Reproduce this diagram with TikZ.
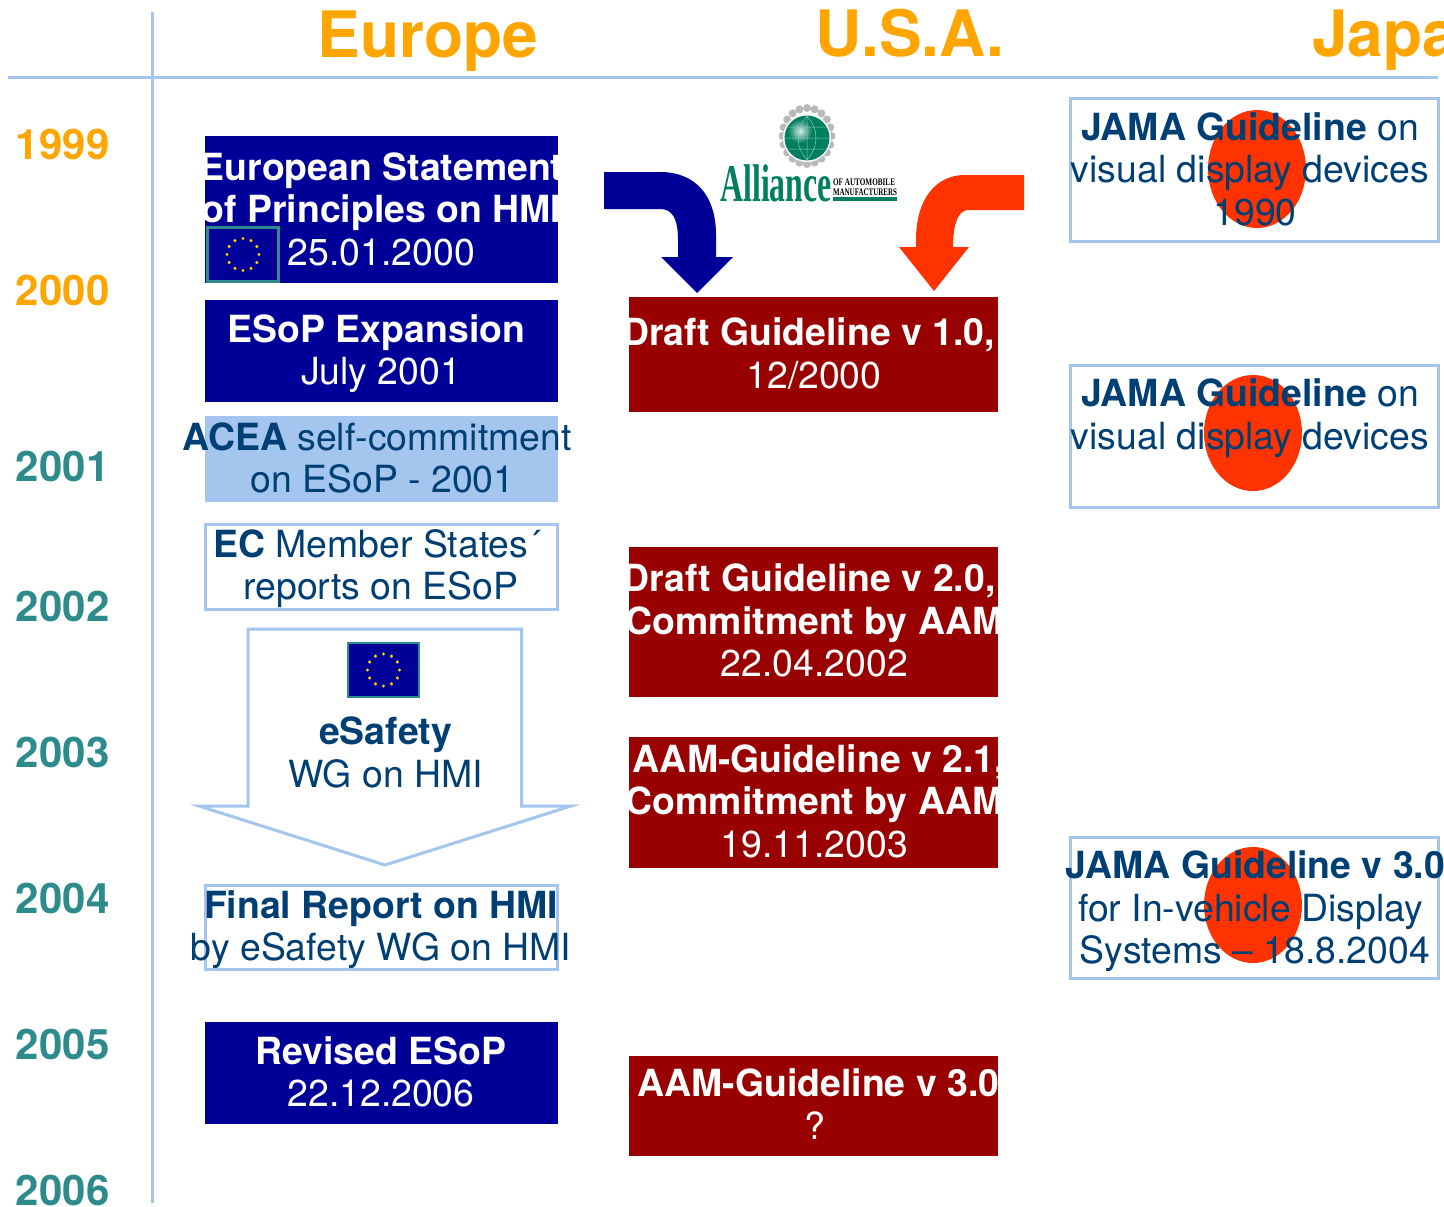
\documentclass[tikz,border=0pt]{standalone}
\usepackage{fontspec}
\setmainfont{TeX Gyre Heros}
\newfontfamily\logofont{Liberation Serif}
\definecolor{navy}{HTML}{000099}
\definecolor{maroon}{HTML}{990000}
\definecolor{pale}{HTML}{A3C5EE}
\definecolor{ink}{HTML}{003F73}
\definecolor{amber}{HTML}{FFA500}
\definecolor{teal2}{HTML}{2E8B8B}
\definecolor{hot}{HTML}{FF3300}
\definecolor{logogreen}{HTML}{007F5F}
\definecolor{star}{HTML}{FFCC00}
\newcommand{\flagat}[5]{%
  \node[flagbox,minimum width=#3,minimum height=#4] (#5) at (#1,#2) {};
  \foreach \a in {0,30,...,330} \fill[star] (#1,#2) ++(\a:16) circle (1.7);
}
\tikzset{
  x=1pt,y=-1pt,
  every node/.style={inner sep=0pt,outer sep=0pt},
  box/.style={anchor=north west,minimum width=353,rectangle},
  bluebox/.style={box,fill=navy},
  redbox/.style={box,fill=maroon,minimum width=369},
  paleb/.style={box,fill=pale},
  wbox/.style={box,draw=pale,line width=3,minimum width=352},
  jbox/.style={box,draw=pale,line width=3,minimum width=368},
  body/.style={align=center,font=\fontsize{37.4}{42.5}\selectfont},
  wtxt/.style={body,text=white},
  dtxt/.style={body,text=ink},
  year/.style={anchor=base west,font=\fontsize{42}{42}\selectfont\bfseries},
  head/.style={anchor=base,text=amber,font=\fontsize{64}{64}\selectfont\bfseries},
  flagbox/.style={rectangle,draw=teal2,fill=navy,line width=2.5},
  rule/.style={draw=pale,line width=3},
  blob/.style={fill=hot},
  tiny/.style={anchor=base west,text=black,font=\logofont\bfseries\fontsize{10}{10}\selectfont}
}
\begin{document}
\begin{tikzpicture}
\useasboundingbox (0,0) rectangle (1444,1207);
\clip (0,0) rectangle (1444,1207);
\fill[white] (0,0) rectangle (1444,1207);
% axes
\coordinate (vt) at (152.5,12); \coordinate (vb) at (152.5,1203);
\coordinate (hl) at (8,77.5); \coordinate (hr) at (1438,77.5);
\draw[rule] (vt) -- (vb);
\draw[rule] (hl) -- (hr);
% headers
\node[head] (hE) at (428,58) {Europe};
\node[head] (hU) at (910,57) {U.S.A.};
\node[head,anchor=base west] (hJ) at (1312,57) {Japan};
% years
\node[year,text=amber] (y99) at (16,159) {1999};
\node[year,text=amber] (y00) at (16,305) {2000};
\node[year,text=teal2] (y01) at (16,481) {2001};
\node[year,text=teal2] (y02) at (16,621) {2002};
\node[year,text=teal2] (y03) at (16,767) {2003};
\node[year,text=teal2] (y04) at (16,913) {2004};
\node[year,text=teal2] (y05) at (16,1059) {2005};
\node[year,text=teal2] (y06) at (16,1205) {2006};
% europe
\node[bluebox,minimum height=147] (b1) at (205,136) {};
\node[wtxt] (t1) at (381.5,214) {\strut\textbf{European Statement}\\\textbf{of Principles on HMI}\\25.01.2000\strut};
\flagat{243}{254.5}{71}{54}{f1}
\node[bluebox,minimum height=102] (b2) at (205,300) {};
\node[wtxt] (t2) at (381,355) {\strut\textbf{ESoP Expansion}\hspace*{9pt}\\July 2001\strut};
\node[paleb,minimum height=86] (b3) at (205,416) {};
\node[dtxt] (t3) at (377,463) {\strut\textbf{ACEA} self-commitment\\\hspace*{11pt}on ESoP - 2001\strut};
\node[wbox,minimum height=85] (b4) at (205,524) {};
\node[dtxt] (t4) at (377,570) {\strut\textbf{EC} Member States´\\\hspace*{8pt}reports on ESoP\strut};
% eSafety arrow
\coordinate (a1) at (248,629); \coordinate (a2) at (521.5,629); \coordinate (a3) at (521.5,806);
\coordinate (a4) at (571,806); \coordinate (a5) at (385,865); \coordinate (a6) at (199,806); \coordinate (a7) at (248,806);
\filldraw[rule,fill=white] (a1) -- (a2) -- (a3) -- (a4) -- (a5) -- (a6) -- (a7) -- cycle;
\flagat{383.5}{670}{71}{54}{f2}
\node[dtxt] (t5) at (385.5,757.5) {\strut\textbf{eSafety}\\WG on HMI\strut};
\node[wbox,minimum height=84] (b6) at (205,885) {};
\node[dtxt] (t6) at (381,931) {\strut\textbf{Final Report on HMI}\\by eSafety WG on HMI\strut};
\node[bluebox,minimum height=102] (b7) at (205,1022) {};
\node[wtxt] (t7) at (381,1077) {\strut\textbf{Revised ESoP}\\22.12.2006\strut};
% usa
\node[redbox,minimum height=115] (r1) at (629,297) {};
\node[wtxt] (u1) at (814,358.5) {\strut\textbf{Draft Guideline v 1.0,}\hspace*{11pt}\\12/2000\strut};
\node[redbox,minimum height=150] (r2) at (629,547) {};
\node[wtxt] (u2) at (814.5,625.5) {\strut\textbf{Draft Guideline v 2.0,}\hspace*{11pt}\\\textbf{Commitment by AAM}\\22.04.2002\strut};
\node[redbox,minimum height=131] (r3) at (629,737) {};
\node[wtxt] (u3) at (814.5,806) {\strut\hspace*{9pt}\textbf{AAM-Guideline v 2.1,}\\\textbf{Commitment by AAM}\\19.11.2003\strut};
\node[redbox,minimum height=100] (r4) at (629,1056) {};
\node[wtxt] (u4) at (818.5,1109.5) {\strut\textbf{AAM-Guideline v 3.0}\\\hspace*{-8pt}?\strut};
% arrows
\fill[navy] (604,172) -- (660,172) .. controls (695,172) and (716,195) .. (716,235) -- (716,257) -- (733,257) -- (697,293) -- (661,257) -- (678,257) -- (678,240) .. controls (678,218) and (672,209) .. (660,209) -- (604,209) -- cycle;
\fill[hot] (1024,175) -- (965,175) .. controls (935,175) and (916,200) .. (916,240) -- (916,247) -- (899,247) -- (934,291) -- (969,247) -- (953,247) .. controls (953,225) and (958,210) .. (968,210) -- (1024,210) -- cycle;
% logo
\foreach \a in {0,18,...,342} \fill[gray!55] (807,136) ++(\a:24.5 and 28) circle (4);
\fill[white] (807,138) circle (24);
\fill[logogreen] (807,138) circle (22.5);
\shade[inner color=white!85!logogreen,outer color=logogreen] (800,131) circle (12);
\draw[white!55!logogreen,line width=0.5] (785,138) -- (829,138) (788,127) -- (826,127) (788,149) -- (826,149) (807,116) .. controls (795,130) and (795,146) .. (807,160) (807,116) .. controls (819,130) and (819,146) .. (807,160) (807,116) -- (807,160);
\node[anchor=base,text=logogreen,font=\logofont\bfseries\fontsize{53}{53}\selectfont,xscale=0.6] (lg) at (776,201) {Alliance};
\node[tiny,xscale=0.72] (lg2) at (833,185) {OF AUTOMOBILE};
\node[tiny,xscale=0.7] (lg3) at (833,195) {MANUFACTURERS};
\fill[logogreen] (833,197) rectangle (897,201);
% japan
\node[jbox,minimum height=142] (j1) at (1070,99) {};
\node[jbox,minimum height=142] (j2) at (1070,365) {};
\node[jbox,minimum height=141] (j3) at (1070,837) {};
\fill[blob] (1257,169) ellipse (49 and 59);
\fill[blob] (1253,433) ellipse (49 and 58);
\fill[blob] (1253,905) ellipse (49 and 58);
\node[dtxt] (k1) at (1250,174) {\strut\textbf{JAMA Guideline} on\\visual display devices\\\hspace*{10pt}1990\strut};
\node[dtxt] (k2) at (1250,419.5) {\strut\textbf{JAMA Guideline} on\\visual display devices\strut};
\node[dtxt] (k3) at (1255,912.5) {\strut\hspace*{1pt}\textbf{JAMA Guideline v 3.0}\\for In-vehicle Display\mbox{\hspace{9pt}}\\Systems -- 18.8.2004\strut};
\end{tikzpicture}
\end{document}
